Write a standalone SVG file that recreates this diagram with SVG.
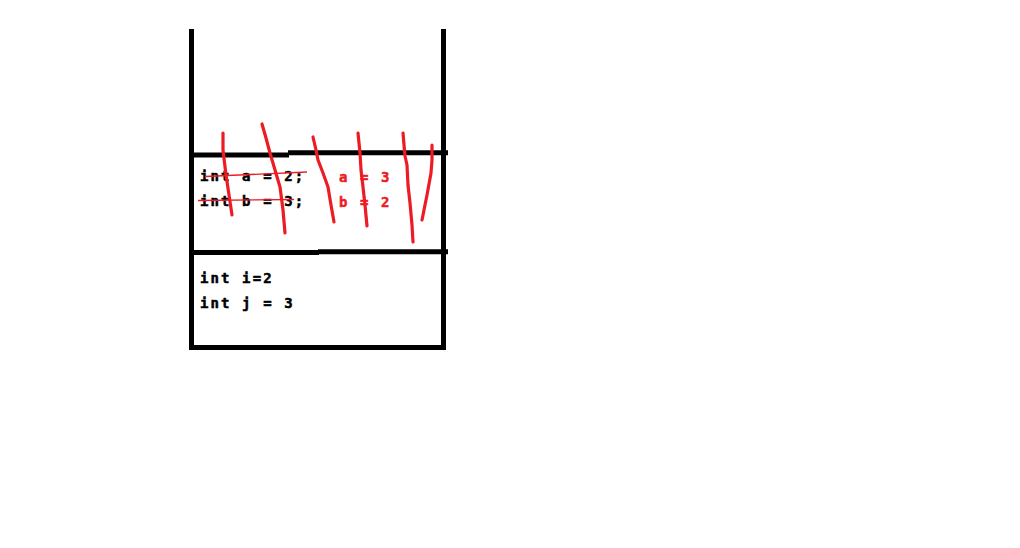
<svg xmlns="http://www.w3.org/2000/svg" width="1020" height="548" viewBox="0 0 1020 548">
<style>
.k{stroke:#000;stroke-width:5;fill:none}
.r{stroke:#ed1c24;stroke-width:3.2;fill:none;stroke-linecap:round;stroke-linejoin:round}
.s{stroke:#ed1c24;stroke-width:1.3;fill:none}
.t{font-family:"DejaVu Sans Mono","Liberation Mono",monospace;font-weight:bold;font-size:14px;letter-spacing:2.1px;fill:#000;stroke:#000;stroke-width:0.5}
.tr{fill:#ed1c24;stroke:#ed1c24}
</style>
<rect width="1020" height="548" fill="#fff"/>
<g id="stack">
<line class="k" x1="191.5" y1="29" x2="191.5" y2="350"/>
<line class="k" x1="443.5" y1="29" x2="443.5" y2="350"/>
<line class="k" x1="189" y1="347.5" x2="446" y2="347.5"/>
<line class="k" x1="191" y1="155" x2="289" y2="155"/>
<line class="k" x1="288" y1="152.7" x2="448" y2="152.7"/>
<line class="k" x1="191" y1="252.5" x2="319" y2="252.5"/>
<line class="k" x1="318" y1="251.8" x2="448" y2="251.8"/>
</g>
<g id="text">
<text class="t" x="200" y="180.5">int a = 2;</text>
<text class="t" x="200" y="205.5">int b = 3;</text>
<text class="t tr" x="339" y="182">a = 3</text>
<text class="t tr" x="339" y="207">b = 2</text>
<text class="t" x="200" y="283">int i=2</text>
<text class="t" x="200" y="308">int j = 3</text>
</g>
<g id="strokes">
<line class="s" x1="205" y1="176.5" x2="307" y2="172"/>
<line class="s" x1="198" y1="200.5" x2="294" y2="199.5"/>
<polyline class="r" points="223,133 223,150 226,175 229,195 232,215"/>
<polyline class="r" points="262,124 266,138 270,153 275,170 280,187 283,210 285,233"/>
<polyline class="r" points="313,137 316,150 318,160 323,173 328,187 331,205 334,222"/>
<polyline class="r" points="358,133 360,153 361,170 363,187 365,205 367,226"/>
<polyline class="r" points="403,133 404,145 405,156 407,165 408,185 410,203 412,225 413,242"/>
<polyline class="r" points="432,145 432,160 431,173 427,195 424,210 422,220"/>
</g>
</svg>
